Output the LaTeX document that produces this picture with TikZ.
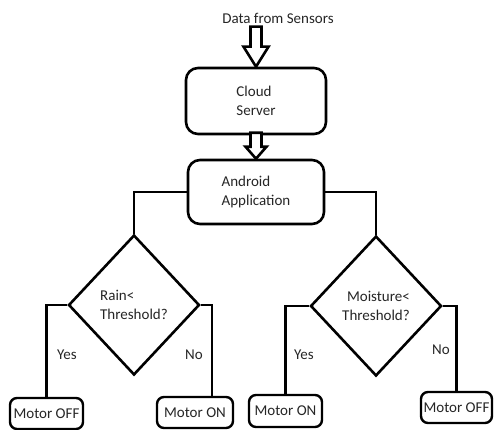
\documentclass[tikz,border=0pt]{standalone}
\usepackage{fontspec}
\setmainfont{Carlito}
\usetikzlibrary{positioning,shapes.geometric,calc}
\definecolor{flowInk}{HTML}{000000}
\definecolor{flowText}{HTML}{262626}
\tikzset{
  every picture/.style={font=\fontsize{15}{19}\selectfont, text=flowText},
  flow box/.style={draw=flowInk, line width=2.6pt, rounded corners=12pt,
    fill=white, align=left, inner sep=0pt},
  flow small/.style={draw=flowInk, line width=2.4pt, rounded corners=7pt,
    fill=white, inner sep=0pt, minimum height=31pt},
  flow decision/.style={diamond, draw=flowInk, line width=2.6pt, fill=white,
    inner sep=0pt, minimum width=131pt, minimum height=140pt},
  flow line/.style={draw=flowInk, line width=2.6pt},
  flow hollow/.style={draw=flowInk, line width=2.6pt, fill=white, line join=miter}
}

\begin{document}
\begin{tikzpicture}[x=1pt,y=1pt]
  \useasboundingbox (0,0) rectangle (494,429);
  \node (data) at (278,411) {Data from Sensors};
  \node[flow box, minimum width=140pt, minimum height=66pt] (cloud) at (256,328) {Cloud\\Server};
  \node[flow box, minimum width=136pt, minimum height=64pt] (android) at (256,237) {Android\\Application};
  \node[flow decision, align=left] (rain) at (134,124) {Rain<\\Threshold?};
  \node[flow decision, align=right] (moist) at (376,123) {Moisture<\\Threshold?};
  \node[flow small, minimum width=73pt] (offA) at (46.5,15.5) {Motor OFF};
  \node[flow small, minimum width=76pt] (onA) at (195,16.5) {Motor ON};
  \node[flow small, minimum width=73pt, minimum height=32pt] (onB) at (285.5,18) {Motor ON};
  \node[flow small, minimum width=71pt] (offB) at (456.5,21.5) {Motor OFF};
  % hollow block arrows
  \draw[flow hollow] (cloud.north) -- ++(12.5,20) -- ++(-7,0) -- ++(0,20)
    -- ++(-11,0) -- ++(0,-20) -- ++(-7,0) -- cycle;
  \draw[flow hollow] (android.north) -- ++(10.5,12) -- ++(-5,0) -- ++(0,14)
    -- ++(-11,0) -- ++(0,-14) -- ++(-5,0) -- cycle;
  % branches
  \draw[flow line] (android.west) -| (rain.north);
  \draw[flow line] (android.east) -| (moist.north);
  \draw[flow line] (rain.west) -| (offA.north);
  \draw[flow line] (rain.east) -| ([xshift=17pt]onA.north);
  \draw[flow line] (moist.west) -| (onB.north);
  \draw[flow line] (moist.east) -| (offB.north);
  \node (yesA) at (67,74) {Yes};
  \node (noA) at (194,74) {No};
  \node (yesB) at (304,74) {Yes};
  \node (noB) at (441,79) {No};
\end{tikzpicture}
\end{document}
